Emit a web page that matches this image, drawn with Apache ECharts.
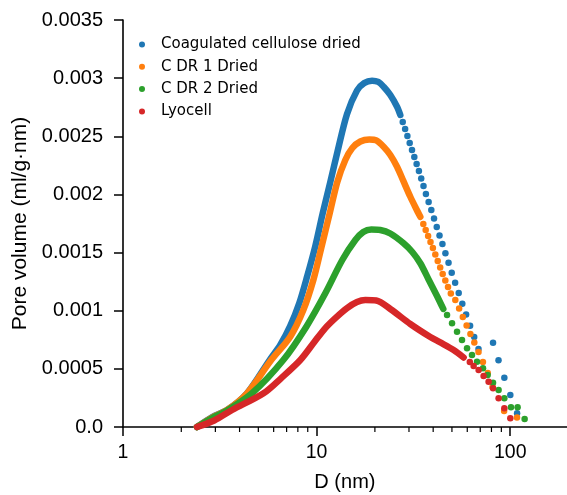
<!DOCTYPE html>
<html>
<head>
<meta charset="utf-8">
<script src="https://cdn.jsdelivr.net/npm/echarts@6/dist/echarts.min.js"></script>
<style>
  html, body { margin: 0; padding: 0; background: #fff; }
  #chart { width: 567px; height: 495px; }
</style>
</head>
<body>
<div id="chart"></div>
<script>
// pore diameter D (nm) / pore volume (ml/g·nm)
// "curve" = the part where points are packed into a solid band, "dots" = separated points
const blueCurveD = [2.41, 2.89, 3.45, 4.37, 5.72, 6.49, 7.31, 8.14, 8.95, 9.85, 10.76, 11.77, 12.84, 14.36, 16.17, 17.63, 19.33, 20.83, 22.19, 24.03, 26.03, 27.06];
const blueCurveV = [0, 0.000086, 0.000146, 0.00029, 0.000576, 0.000705, 0.000869, 0.001066, 0.001299, 0.001557, 0.00184, 0.002107, 0.002373, 0.002692, 0.002894, 0.002958, 0.002978, 0.002967, 0.002926, 0.002855, 0.002754, 0.002683];
const blueDotsD = [27.85, 28.66, 29.44, 30.26, 31.10, 31.97, 32.85, 33.76, 34.70, 35.66, 36.69, 37.89, 39.13, 40.41, 41.73, 43.14, 44.65, 46.27, 48.01, 49.87, 51.94, 54.20, 56.57, 59.18, 62.06, 65.17, 68.59, 81.52, 87.00, 93.24, 100.1, 108.5];
const blueDotsV = [0.002623, 0.002563, 0.002502, 0.002442, 0.002382, 0.002322, 0.002262, 0.002201, 0.002137, 0.002072, 0.002004, 0.001935, 0.001866, 0.001793, 0.00172, 0.001647, 0.001574, 0.001494, 0.001413, 0.001327, 0.001241, 0.001152, 0.001059, 0.000967, 0.000871, 0.000774, 0.000671, 0.000725, 0.000574, 0.000424, 0.000275, 0.000118];

const orangeCurveD = [2.41, 2.89, 3.45, 4.37, 5.83, 7.31, 8.54, 9.62, 10.57, 11.73, 12.79, 14.07, 15.29, 16.82, 18.72, 20.34, 22.19, 24.03, 26.03, 28.05, 30.48, 32.73, 34.33];
const orangeCurveV = [0, 0.000082, 0.000146, 0.00029, 0.000576, 0.000777, 0.001006, 0.001264, 0.00154, 0.001849, 0.002107, 0.002296, 0.002399, 0.002455, 0.002472, 0.002464, 0.00241, 0.002339, 0.002238, 0.002116, 0.00198, 0.001875, 0.001808];
const orangeDotsD = [35.57, 36.60, 37.66, 38.75, 39.87, 41.03, 42.22, 43.49, 44.80, 46.22, 47.72, 49.34, 52.04, 54.46, 56.91, 59.54, 62.28, 65.26, 68.59, 72.28, 76.53, 81.03, 93.0, 108.4];
const orangeDotsV = [0.001746, 0.001694, 0.001643, 0.001591, 0.001539, 0.001483, 0.001428, 0.001372, 0.001316, 0.00126, 0.001204, 0.001148, 0.001092, 0.001019, 0.000946, 0.000873, 0.0008, 0.000727, 0.000645, 0.000559, 0.000464, 0.000344, 0.000138, 0.000082];

const greenCurveD = [2.41, 2.89, 3.45, 4.64, 6.73, 8.85, 11.09, 13.57, 15.85, 17.42, 19.17, 21.33, 24.03, 28.14, 31.21, 34.33, 37.76, 41.87, 45.12];
const greenCurveV = [0, 0.000077, 0.000142, 0.00029, 0.000576, 0.000863, 0.00115, 0.001436, 0.001608, 0.001677, 0.001698, 0.001694, 0.001664, 0.00158, 0.001505, 0.001408, 0.001273, 0.001127, 0.001015];
const greenDotsD = [47.17, 50.06, 53.12, 56.36, 59.83, 63.49, 67.37, 72.36, 76.44, 81.52, 87.10, 93.24, 100.9, 109.2, 118.7];
const greenDotsV = [0.000963, 0.000892, 0.00082, 0.000748, 0.000677, 0.000619, 0.000562, 0.000505, 0.000447, 0.000381, 0.000318, 0.000247, 0.000169, 0.000169, 0.000069];

const redCurveD = [2.41, 2.96, 3.66, 5.32, 6.57, 8.24, 9.73, 11.09, 12.50, 14.36, 16.17, 17.85, 20.34, 24.03, 30.48, 38.66, 43.55, 51.01, 57.45];
const redCurveV = [0, 0.000056, 0.000146, 0.00029, 0.000421, 0.000576, 0.000731, 0.000851, 0.000937, 0.001023, 0.001075, 0.001092, 0.001088, 0.001015, 0.000886, 0.000774, 0.000727, 0.000662, 0.000598];
const redDotsD = [61.85, 64.71, 68.69, 72.86, 77.34, 81.52, 87.10, 93.24, 100.1];
const redDotsV = [0.000559, 0.000525, 0.00049, 0.000439, 0.00039, 0.000333, 0.000247, 0.000161, 0.000075];

const seriesNames = ['Coagulated cellulose dried', 'C DR 1 Dried', 'C DR 2 Dried', 'Lyocell'];
const seriesColors = ['#1f77b4', '#ff7f0e', '#2ca02c', '#d62728'];

const xMajorTicks = [1, 10, 100];
const xMinorTicks = [2, 3, 4, 5, 6, 7, 8, 9, 20, 30, 40, 50, 60, 70, 80, 90];
const yTickLabels = ['0.0', '0.0005', '0.001', '0.0015', '0.002', '0.0025', '0.003', '0.0035'];

const curves = [
  [blueCurveD, blueCurveV, blueDotsD, blueDotsV],
  [orangeCurveD, orangeCurveV, orangeDotsD, orangeDotsV],
  [greenCurveD, greenCurveV, greenDotsD, greenDotsV],
  [redCurveD, redCurveV, redDotsD, redDotsV]
];

function pairs(xs, ys) {
  return xs.map((x, i) => [x, ys[i]]);
}

const DOT = 6.5;
const series = [];
curves.forEach((c, i) => {
  const color = seriesColors[i];
  series.push({
    name: seriesNames[i],
    type: 'scatter',
    data: pairs(c[2], c[3]),
    symbolSize: DOT,
    itemStyle: { color: color, opacity: 1 },
    clip: false
  });
  series.push({
    name: seriesNames[i],
    type: 'line',
    data: pairs(c[0], c[1]),
    smooth: 0.3,
    showSymbol: false,
    itemStyle: { color: color },
    lineStyle: { color: color, width: DOT, cap: 'round', join: 'round' },
    clip: false
  });
});

// minor ticks of the log axis (2..9 per decade) as short vertical marks at y = 0
series.push({
  name: 'minor ticks',
  type: 'scatter',
  silent: true,
  clip: false,
  z: 100,
  data: xMinorTicks.map(v => [v, 0]),
  symbol: 'rect',
  symbolSize: [1.2, 5],
  symbolOffset: [0, 2.5],
  itemStyle: { color: '#000', opacity: 1 }
});

const chart = echarts.init(document.getElementById('chart'), null, { renderer: 'canvas' });
chart.setOption({
  animation: false,
  backgroundColor: '#fff',
  // keep the whole grid inside the 567px canvas: 1..196 spans 443.8px (193.6px per decade)
  grid: { left: 123, top: 20, width: 443.8, height: 407, outerBoundsMode: 'none', containLabel: false },
  legend: {
    data: seriesNames.map(n => ({ name: n, icon: 'circle' })),
    orient: 'vertical',
    left: 134,
    top: 32,
    itemWidth: 28,
    itemHeight: 6,
    itemGap: 7.3,
    selectedMode: false,
    textStyle: { fontFamily: 'DejaVu Sans', fontSize: 15, color: '#000', lineHeight: 15 }
  },
  xAxis: {
    type: 'log',
    logBase: 10,
    min: 1,
    max: 196,
    name: 'D (nm)',
    nameLocation: 'middle',
    nameGap: 45,
    nameTextStyle: { fontFamily: 'Liberation Sans', fontSize: 20, color: '#000' },
    axisLine: { show: true, onZero: false, lineStyle: { color: '#000', width: 1.6 } },
    axisTick: { show: true, inside: false, length: 9, customValues: xMajorTicks, lineStyle: { color: '#000', width: 1.5 } },
    splitLine: { show: false },
    axisLabel: {
      margin: 16,
      fontFamily: 'Liberation Sans',
      fontSize: 19.5,
      color: '#000',
      formatter: v => (xMajorTicks.indexOf(Math.round(v)) >= 0 ? String(Math.round(v)) : '')
    }
  },
  yAxis: {
    type: 'value',
    min: 0,
    max: 0.0035,
    interval: 0.0005,
    name: 'Pore volume (ml/g\u00b7nm)',
    nameLocation: 'middle',
    nameGap: 89,
    nameTextStyle: { fontFamily: 'Liberation Sans', fontSize: 21, color: '#000' },
    axisLine: { show: true, lineStyle: { color: '#000', width: 1.6 } },
    axisTick: { show: true, length: 9, lineStyle: { color: '#000', width: 1.5 } },
    splitLine: { show: false },
    axisLabel: {
      margin: 20,
      fontFamily: 'Liberation Sans',
      fontSize: 20,
      color: '#000',
      formatter: v => yTickLabels[Math.round(v / 0.0005)]
    }
  },
  series: series
});
</script>
</body>
</html>
